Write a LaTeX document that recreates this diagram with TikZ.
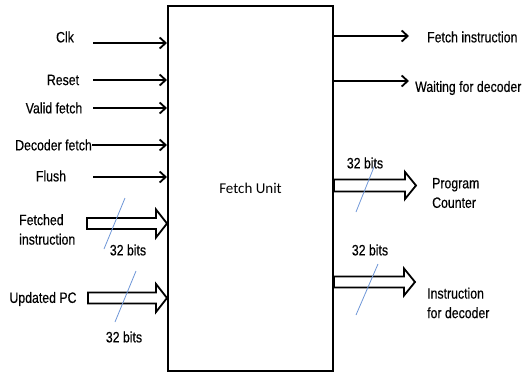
\documentclass[tikz,border=0pt]{standalone}
\usepackage{fontspec}
\setmainfont{Liberation Sans}[FakeStretch=0.82,FakeBold=0.4]
\newfontfamily\calib{Carlito}
\usetikzlibrary{arrows.meta,calc}
\definecolor{slashblue}{RGB}{110,150,215}
\tikzset{
  sig/.style={line width=1.8pt,-{Straight Barb[length=6pt,width=11pt]}},
  fatbody/.style={line width=1.8pt,line join=miter},
  busmark/.style={slashblue,line width=0.8pt},
  lbl/.style={inner sep=0pt,font=\fontsize{15}{19.5}\selectfont},
}
\newcommand{\fatarrow}[4]{% start, tip, half body, half head
  \draw[fatbody] ($(#1)+(0,-#3)$) -- ($(#2)+(-11,-#3)$) -- ($(#2)+(-11,-#4)$) -- (#2)
    -- ($(#2)+(-11,#4)$) -- ($(#2)+(-11,#3)$) -- ($(#1)+(0,#3)$) -- cycle;}
\begin{document}
\begin{tikzpicture}[x=1pt,y=-1pt]
\useasboundingbox (0,0) rectangle (525,375);
% main box
\node[draw,line width=2pt,minimum width=165pt,minimum height=365pt,inner sep=0pt,
      font=\calib\fontsize{15}{18}\selectfont] (fu) at (250.5,188.5) {Fetch Unit};

% single-bit inputs
\node[lbl] (clk) at (65,37) {Clk};
\node[lbl] (rst) at (63,80) {Reset};
\node[lbl] (vf) at (54,108) {Valid fetch};
\node[lbl,anchor=east] (df) at (92,145) {Decoder fetch};
\node[lbl] (fl) at (51,176) {Flush};
\coordinate (clkS) at (93,43);
\coordinate (rstS) at (93,80);
\coordinate (vfS) at (93,108);
\coordinate (dfS) at (92,145);
\coordinate (flS) at (93,177);
\foreach \s in {clkS,rstS,vfS,dfS,flS}
  \draw[sig] (\s) -- (\s -| fu.west);

% bus inputs
\node[lbl,align=left,anchor=west] (fin) at (19,229.5) {Fetched\\instruction};
\coordinate (finS) at (87,223.5);
\coordinate (finT) at (finS -| fu.west);
\fatarrow{finS}{finT}{5.5}{14}
\draw[busmark] (125,198) -- (104,249);
\node[lbl] (b1) at (128,250) {32 bits};

\node[lbl] (upc) at (43,299) {Updated PC};
\coordinate (upcS) at (88,298);
\coordinate (upcT) at (upcS -| fu.west);
\fatarrow{upcS}{upcT}{5.5}{14}
\draw[busmark] (136,271) -- (115,322);
\node[lbl] (b2) at (124,337) {32 bits};

% single-bit outputs
\coordinate (fiE) at (409,36);
\draw[sig] (fiE -| fu.east) -- (fiE);
\node[lbl,anchor=west] (fi) at (427,37) {Fetch instruction};
\coordinate (wdE) at (409,81);
\draw[sig] (wdE -| fu.east) -- (wdE);
\node[lbl,anchor=west] (wd) at (415,88) {Waiting for decoder};

% bus outputs
\coordinate (pcT) at (416,185.5);
\coordinate (pcS) at (pcT -| fu.east);
\fatarrow{pcS}{pcT}{6}{13.5}
\draw[busmark] (376,162) -- (356,212);
\node[lbl] (b3) at (365,163) {32 bits};
\node[lbl,align=left,anchor=west] (pc) at (432,193) {Program\\Counter};

\coordinate (idT) at (415,282);
\coordinate (idS) at (idT -| fu.east);
\fatarrow{idS}{idT}{5.5}{13.5}
\draw[busmark] (378,264) -- (356,315);
\node[lbl] (b4) at (370,250) {32 bits};
\node[lbl,align=left,anchor=west] (id) at (427,303) {Instruction\\for decoder};
\end{tikzpicture}
\end{document}
